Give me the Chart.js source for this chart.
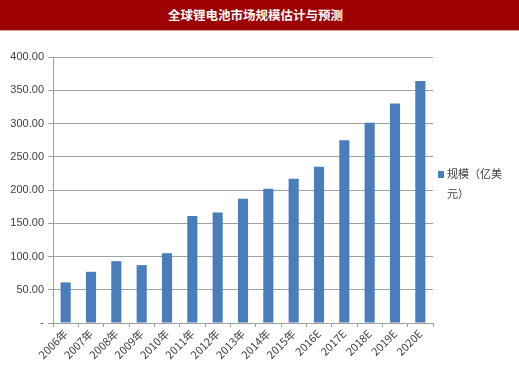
<!DOCTYPE html>
<html><head><meta charset="utf-8">
<script src="https://cdn.jsdelivr.net/npm/chart.js@4"></script>
<style>
html,body{margin:0;padding:0;background:#fff;}
#banner{width:519px;height:30px;background:#9c0000;border-bottom:1px solid #d8a0a0;color:#fff;font:bold 12.5px "Noto Sans CJK SC",sans-serif;text-align:center;line-height:30px;box-sizing:content-box;}
#wrap{width:519px;height:350px;position:relative;}
</style></head>
<body>
<div id="banner"><span style="position:relative;left:-4px">全球锂电池市场规模估计与预测</span></div>
<div id="wrap"><canvas id="c"></canvas></div>
<script>
const categories = ["2006年","2007年","2008年","2009年","2010年","2011年","2012年","2013年","2014年","2015年","2016E","2017E","2018E","2019E","2020E"];
const marketSize = [61, 77, 93, 87, 105, 161, 166, 187, 202, 217, 235, 275, 301, 330, 364];
const seriesLabel = "规模（亿美元）";
const legendLines = ["规模（亿美", "元）"];
const yTicks = [0, 50, 100, 150, 200, 250, 300, 350, 400];

const barColor = "#4a7ebb";
const textColor = "#404040";
const gridColor = "#a0a0a0";

const legendPlugin = {
  id: "sideLegend",
  afterDraw(chart) {
    const ctx = chart.ctx;
    const ds = chart.data.datasets[0];
    ctx.save();
    ctx.fillStyle = ds.backgroundColor;
    ctx.fillRect(438, 140, 6, 7);
    ctx.fillStyle = textColor;
    ctx.font = '11px "Noto Sans CJK SC", sans-serif';
    ctx.textBaseline = "middle";
    ctx.textAlign = "left";
    legendLines.forEach((t, i) => ctx.fillText(t, 447, 143 + i * 20));
    ctx.restore();
  }
};

new Chart(document.getElementById("c"), {
  type: "bar",
  data: {
    labels: categories,
    datasets: [{
      label: seriesLabel,
      data: marketSize,
      backgroundColor: barColor,
      categoryPercentage: 1.0,
      barPercentage: 0.4
    }]
  },
  options: {
    responsive: true,
    maintainAspectRatio: false,
    animation: false,
    layout: { padding: { top: 26, right: 86, left: 0, bottom: 0 } },
    plugins: { legend: { display: false }, title: { display: false }, tooltip: { enabled: false } },
    scales: {
      x: {
        offset: true,
        grid: { display: true, drawOnChartArea: false, drawTicks: true, tickLength: 4, color: gridColor, offset: true },
        border: { display: true, color: gridColor },
        ticks: {
          color: textColor,
          font: { family: '"Liberation Sans Narrow","Noto Sans CJK SC",sans-serif', size: 11 },
          minRotation: 45, maxRotation: 45, padding: 0, autoSkip: false
        },
        afterFit(s) { s.height = 58; }
      },
      y: {
        min: 0, max: 400,
        afterBuildTicks(s) { s.ticks = yTicks.map(v => ({ value: v })); },
        grid: { color: gridColor, drawTicks: true, tickLength: 5 },
        border: { display: true, color: gridColor },
        ticks: {
          color: textColor,
          padding: 4,
          font: { family: '"Liberation Sans Narrow","Liberation Sans",sans-serif', size: 11 },
          callback: v => v === 0 ? "-" : v.toFixed(2)
        },
        afterFit(s) { s.width = 53; }
      }
    }
  },
  plugins: [legendPlugin]
});
</script>
</body></html>
